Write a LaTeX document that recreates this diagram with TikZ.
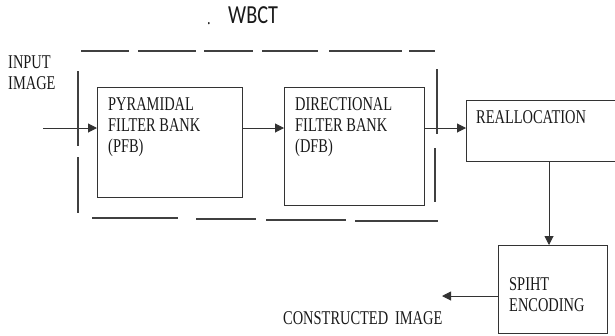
\documentclass[tikz,border=0pt]{standalone}
\usepackage{fontspec}
\setmainfont{Liberation Serif}[FakeStretch=0.74]
\newfontfamily\wbctfont{Carlito}[FakeStretch=0.78]
\usetikzlibrary{arrows.meta}
\begin{document}
\begin{tikzpicture}[x=1pt,y=-1pt,
  ln/.style={draw=black!80,line width=1pt},
  lbl/.style={inner sep=0pt,anchor=north west,align=left,font=\fontsize{19.5}{21}\selectfont,text=black!90},
  arr/.style={ln,-{Triangle[length=9pt,width=9pt]}},
  dsh/.style={draw=black!75,line width=1.1pt}]
\useasboundingbox (0,0) rectangle (615,335);
% boxes
\path[ln] (97,87) rectangle (242,197);
\coordinate (pfbW) at (97,128);
\coordinate (pfbE) at (242,128);
\path[ln] (284,87) rectangle (424,205);
\coordinate (dfbW) at (284,128);
\coordinate (dfbE) at (424,128);
\path[ln] (466,100) rectangle (620,161);
\coordinate (reW) at (466,128);
\coordinate (reS) at (549,161);
\path[ln] (498,245) rectangle (607,333);
\coordinate (spN) at (549,245);
\coordinate (spW) at (498,296);
\coordinate (inS) at (43,128);
\coordinate (outE) at (442,296);
% texts
\node[lbl] (wbct) at (228,6) {\wbctfont\fontsize{26}{28}\selectfont WBCT};
\node[lbl] (dot) at (207,22) {.};
\node[lbl] (in) at (8,56) {INPUT\\IMAGE};
\node[lbl] (pfb) at (108,97) {PYRAMIDAL\\FILTER BANK\\(PFB)};
\node[lbl] (dfb) at (295,97) {DIRECTIONAL\\FILTER BANK\\(DFB)};
\node[lbl] (re) at (476,110) {REALLOCATION};
\node[lbl] (sp) at (509,277) {SPIHT\\ENCODING};
\node[lbl] (out) at (283,311) {CONSTRUCTED\hspace{0.35em}IMAGE};
% arrows
\draw[arr] (inS) -- (pfbW);
\draw[arr] (pfbE) -- (dfbW);
\draw[arr] (dfbE) -- (reW);
\draw[arr] (reS) -- (spN);
\draw[arr] (spW) -- (outE);
% dashed WBCT frame
\foreach \a/\b in {81/129,138/196,204/253,262/318,329/402,409/435}
  \draw[dsh] (\a,51) -- (\b,51);
\draw[dsh] (92,218) -- (178,218);
\draw[dsh] (196,219) -- (256,219);
\draw[dsh] (266,220) -- (346,220);
\draw[dsh] (355,221) -- (438,221);
\draw[dsh] (78,71) -- (78,146);
\draw[dsh] (78,157) -- (78,213);
\draw[dsh] (437,69) -- (437,134);
\draw[dsh] (435,148) -- (435,202);
\end{tikzpicture}
\end{document}
